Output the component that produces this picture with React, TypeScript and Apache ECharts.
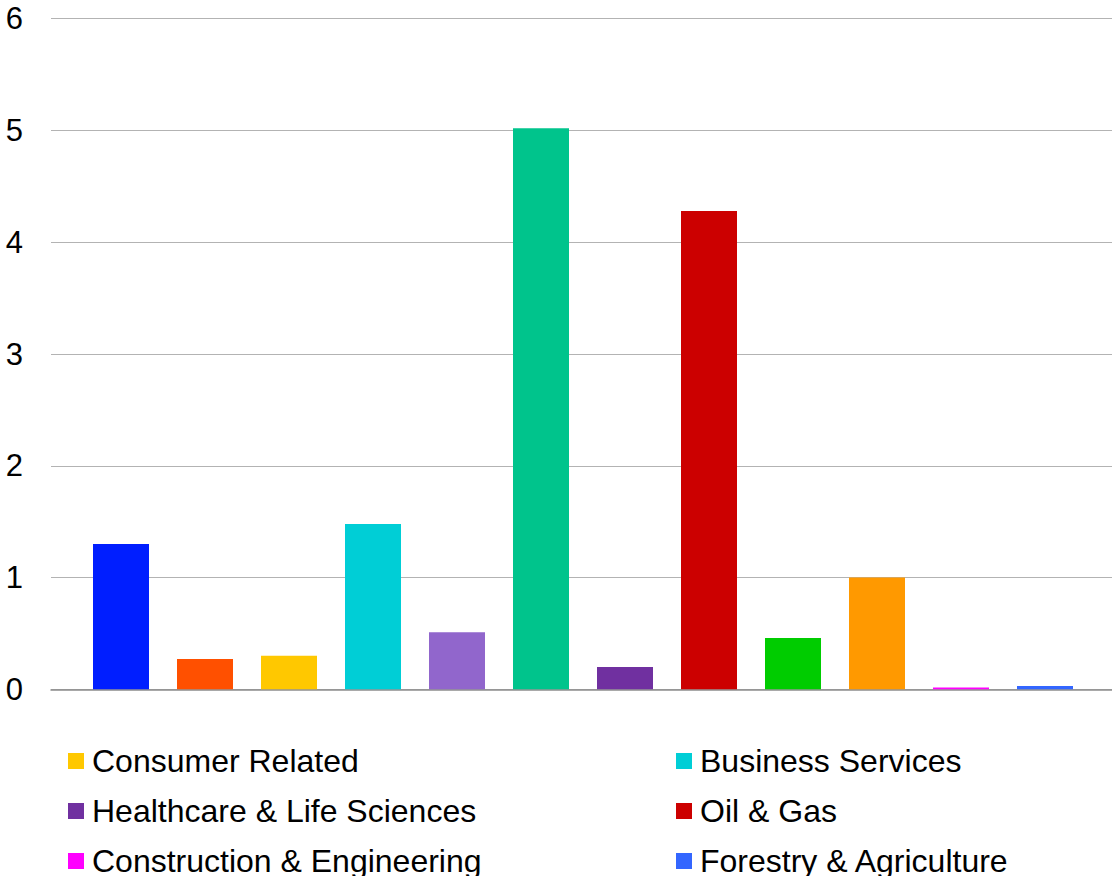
import React, { useEffect, useRef } from "react";
import * as echarts from "echarts";

// Sector names, one bar each, left to right
const sectors = [
  "Computer Related",
  "Communications",
  "Consumer Related",
  "Business Services",
  "Electronics",
  "Financial Services",
  "Healthcare & Life Sciences",
  "Oil & Gas",
  "Renewable Energy",
  "Industrial Products",
  "Construction & Engineering",
  "Forestry & Agriculture",
];

const values = [1.3, 0.27, 0.3, 1.48, 0.51, 5.02, 0.2, 4.28, 0.46, 1.0, 0.015, 0.03];

const colors = [
  "#001EFF",
  "#FF5000",
  "#FFC800",
  "#00CED6",
  "#9166CC",
  "#00C48C",
  "#7030A0",
  "#CC0000",
  "#00CC00",
  "#FF9900",
  "#FF00FF",
  "#3366FF",
];

// Sectors listed in the legend, in reading order (two columns)
const legendNames = [
  "Consumer Related",
  "Business Services",
  "Healthcare & Life Sciences",
  "Oil & Gas",
  "Construction & Engineering",
  "Forestry & Agriculture",
];

const yTicks = [0, 1, 2, 3, 4, 5, 6];

const FONT = "'Liberation Sans', Arial, Helvetica, sans-serif";

export default function App() {
  const ref = useRef<HTMLDivElement>(null);

  useEffect(() => {
    if (!ref.current) return;
    const chart = echarts.init(ref.current, undefined, { renderer: "svg" });

    const gridLeft = 51;
    const gridWidth = 1061;
    const pitch = 84; // px per category
    const firstCenter = 121;
    const xMin = -(firstCenter - gridLeft) / pitch;
    const xMax = xMin + gridWidth / pitch;

    const legends = legendNames.map((name, i) => ({
      show: true,
      data: [name],
      left: i % 2 === 0 ? 68 : 676,
      top: 745 + Math.floor(i / 2) * 50,
      itemWidth: 16,
      itemHeight: 16,
      icon: "rect",
      selectedMode: false,
      padding: 0,
      textStyle: {
        fontFamily: FONT,
        fontSize: 32,
        color: "#000",
        lineHeight: 16,
        padding: [0, 0, 0, 3],
      },
    }));

    chart.setOption({
      animation: false,
      backgroundColor: "#ffffff",
      textStyle: { fontFamily: FONT },
      grid: {
        left: gridLeft,
        width: gridWidth,
        top: 18.7,
        bottom: 186.7,
        containLabel: false,
      },
      legend: legends,
      xAxis: {
        type: "value",
        min: xMin,
        max: xMax,
        axisLabel: { show: false },
        axisTick: { show: false },
        splitLine: { show: false },
        axisLine: { show: true, lineStyle: { color: "#8c8c8c", width: 1.5 } },
      },
      yAxis: {
        type: "value",
        min: yTicks[0],
        max: yTicks[yTicks.length - 1],
        interval: 1,
        axisLine: { show: false },
        axisTick: { show: false },
        axisLabel: {
          fontFamily: FONT,
          fontSize: 31,
          color: "#000",
          margin: 28,
        },
        splitLine: { lineStyle: { color: "#b3b3b3", width: 1.2 } },
      },
      series: sectors.map((name, i) => ({
        type: "bar",
        name,
        data: [[i, values[i]]],
        barWidth: 56,
        barGap: "-100%",
        itemStyle: { color: colors[i] },
      })),
    });

    return () => chart.dispose();
  }, []);

  return (
    <div
      ref={ref}
      style={{ position: "fixed", left: 0, top: 0, width: 1112, height: 876 }}
    />
  );
}
